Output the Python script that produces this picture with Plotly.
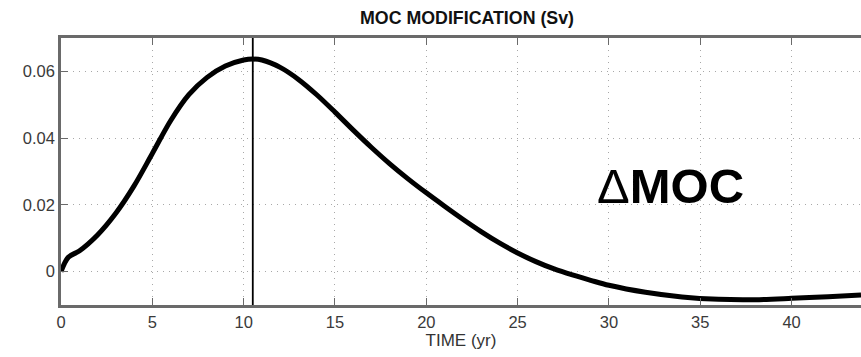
import plotly.graph_objects as go

# Data
time_yr = [0, 0.4, 1, 2, 3, 4, 5, 6, 7, 8, 9, 10, 10.5, 11, 12, 13, 14, 15, 16, 17,
           18, 19, 20, 21, 22, 23, 24, 25, 26, 27, 28, 29, 30, 32, 34, 36, 38, 40,
           42, 43.8]
dmoc_sv = [0, 0.0043, 0.0062, 0.0110, 0.0175, 0.0257, 0.0354, 0.0452, 0.0530, 0.0582,
           0.0616, 0.0634, 0.0637, 0.0634, 0.0612, 0.0576, 0.0530, 0.0478, 0.0424,
           0.0372, 0.0323, 0.0278, 0.0236, 0.0196, 0.0157, 0.0120, 0.0086, 0.0056,
           0.0030, 0.0008, -0.0010, -0.0026, -0.0041, -0.0062, -0.0076, -0.0083,
           -0.0084, -0.0080, -0.0075, -0.0070]
peak_time = 10.5
x_ticks = [0, 5, 10, 15, 20, 25, 30, 35, 40]
y_ticks = [0, 0.02, 0.04, 0.06]
y_tick_labels = ["0", "0.02", "0.04", "0.06"]

FONT = "Liberation Sans, Arial, Helvetica, sans-serif"

fig = go.Figure()
fig.add_trace(go.Scatter(x=time_yr, y=dmoc_sv, mode="lines",
                         line=dict(color="black", width=5, shape="spline", smoothing=0.9),
                         hoverinfo="skip", showlegend=False))

fig.add_shape(type="line", x0=peak_time, x1=peak_time, y0=0, y1=1,
              xref="x", yref="paper", line=dict(color="black", width=1.8))

fig.add_annotation(text="<b>MOC MODIFICATION (Sv)</b>", xref="paper", yref="paper",
                   x=0.507, y=1.0, yshift=32, showarrow=False,
                   font=dict(family=FONT, size=17.8, color="#111"))
fig.add_annotation(text="\u0394<b>MOC</b>", x=33.35, y=0.0258, xref="x", yref="y",
                   showarrow=False, font=dict(family=FONT, size=49, color="black"))

axis_common = dict(showline=True, linecolor="#6a6a6a", linewidth=2.5, ticks="inside",
                   ticklen=7, tickcolor="#6a6a6a", tickwidth=1.2,
                   showgrid=True, gridcolor="#a8a8a8", gridwidth=1, griddash="1px,5px",
                   zeroline=False, tickfont=dict(family=FONT, size=16.5, color="#3a3a3a"))

fig.update_xaxes(range=[0, 43.8], tickvals=x_ticks, mirror="ticks",
                 title=dict(text="TIME (yr)", font=dict(family=FONT, size=17, color="#333"),
                            standoff=5), **axis_common)
fig.update_yaxes(range=[-0.01, 0.07], tickvals=y_ticks, ticktext=y_tick_labels,
                 **axis_common)

fig.update_layout(width=861, height=357, margin=dict(l=61, r=0, t=38, b=52),
                  plot_bgcolor="white", paper_bgcolor="white",
                  font=dict(family=FONT))

fig.write_html("out.html", config={"displayModeBar": False},
               post_script="document.body.style.margin='0';document.body.style.overflow='hidden';")
